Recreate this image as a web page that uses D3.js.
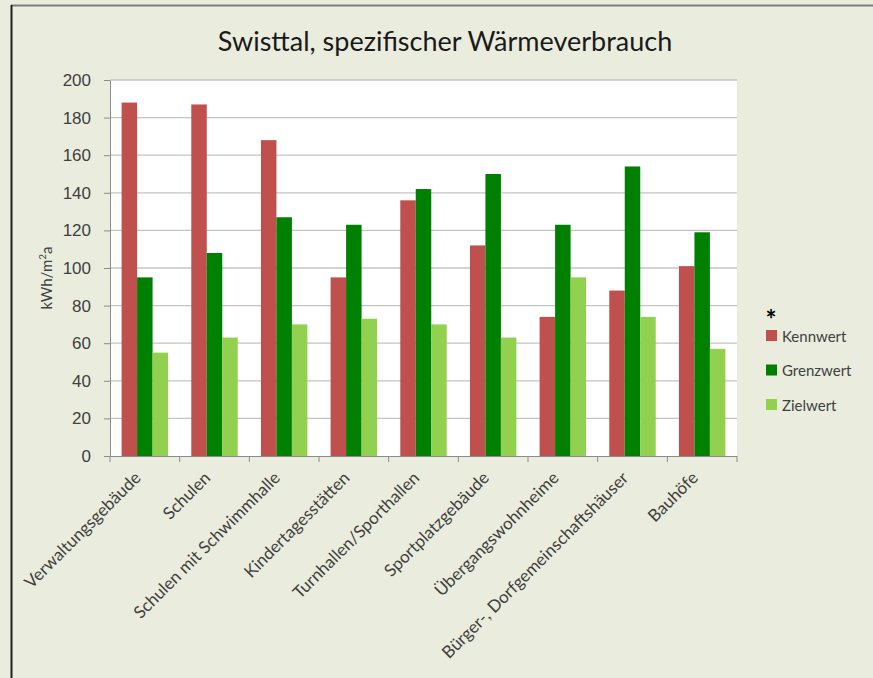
<!DOCTYPE html>
<meta charset="utf-8">
<style>
  body { margin: 0; background: #fff; }
  svg { display: block; font-family: Lato, "Open Sans", sans-serif; }
  .grid line { stroke: #c4c4c4; stroke-width: 1.3px; }
  .axis path, .axis line { stroke: #8c8c8c; }
  .axis text { fill: #404040; }
</style>
<body>
<svg width="873" height="678"></svg>
<script src="https://d3js.org/d3.v7.min.js"></script>
<script>
// data ------------------------------------------------------------------------
var categories = ["Verwaltungsgebäude", "Schulen", "Schulen mit Schwimmhalle", "Kindertagesstätten",
  "Turnhallen/Sporthallen", "Sportplatzgebäude", "Übergangswohnheime",
  "Bürger-, Dorfgemeinschaftshäuser", "Bauhöfe"];
var seriesNames = ["Kennwert", "Grenzwert", "Zielwert"];
var kennwert  = [188, 187, 168, 95, 136, 112, 74, 88, 101];
var grenzwert = [95, 108, 127, 123, 142, 150, 123, 154, 119];
var zielwert  = [55, 63, 70, 73, 70, 63, 95, 74, 57];
var yTicks = [0, 20, 40, 60, 80, 100, 120, 140, 160, 180, 200];
var colors = ["#c0504d", "#008000", "#92d050"];
//------------------------------------------------------------------------------

const svg = d3.select('svg'),
      width = +svg.attr('width'),
      height = +svg.attr('height');

// background + frame
svg.append('rect').attr('width', width).attr('height', height).attr('fill', '#eaeddd');
svg.append('line').attr('x1', 11).attr('x2', width).attr('y1', 5.5).attr('y2', 5.5)
  .attr('stroke', '#7d7d7d').attr('stroke-width', 2);
svg.append('line').attr('x1', 11.5).attr('x2', 11.5).attr('y1', 5).attr('y2', height)
  .attr('stroke', '#222').attr('stroke-width', 2);

// plot area
const plot = {left: 110, right: 737, top: 80, bottom: 456};

const x = d3.scaleBand().domain(categories).range([plot.left, plot.right]).paddingInner(0).paddingOuter(0);
// gap width 150% like in Excel: bars take 3/4.5 of the band
const xs = d3.scaleBand().domain(seriesNames).range([0, x.bandwidth()]).paddingInner(0).paddingOuter(0.75);
const y = d3.scaleLinear().domain([0, 200]).range([plot.bottom, plot.top]);

svg.append('rect')
  .attr('x', plot.left).attr('y', plot.top)
  .attr('width', plot.right - plot.left).attr('height', plot.bottom - plot.top)
  .attr('fill', '#fff');

// gridlines
svg.append('g').attr('class', 'grid')
  .selectAll('line').data(yTicks.filter(d => d > 0)).enter().append('line')
  .attr('x1', plot.left).attr('x2', plot.right)
  .attr('y1', d => y(d)).attr('y2', d => y(d));

// bars
const series = [kennwert, grenzwert, zielwert];
const groups = svg.append('g').selectAll('g').data(categories).enter().append('g')
  .attr('transform', d => `translate(${x(d)},0)`);
groups.selectAll('rect')
  .data((c, i) => seriesNames.map((s, j) => ({s: s, v: series[j][i], j: j})))
  .enter().append('rect')
  .attr('x', d => xs(d.s))
  .attr('width', xs.bandwidth())
  .attr('y', d => y(d.v))
  .attr('height', d => y(0) - y(d.v))
  .attr('fill', d => colors[d.j]);

// y axis
const yAxis = svg.append('g').attr('class', 'axis')
  .attr('transform', `translate(${plot.left},0)`)
  .call(d3.axisLeft(y).tickValues(yTicks).tickSize(6).tickSizeOuter(0).tickPadding(13));
yAxis.selectAll('text').style('font-size', '17px');

// x axis (ticks on category boundaries)
const xAxis = svg.append('g').attr('class', 'axis');
xAxis.append('line').attr('x1', plot.left).attr('x2', plot.right)
  .attr('y1', plot.bottom + 0.5).attr('y2', plot.bottom + 0.5);
xAxis.selectAll('.tk').data(categories.concat(['__end'])).enter().append('line')
  .attr('x1', (d, i) => plot.left + i * x.bandwidth())
  .attr('x2', (d, i) => plot.left + i * x.bandwidth())
  .attr('y1', plot.bottom).attr('y2', plot.bottom + 6);
xAxis.selectAll('text').data(categories).enter().append('text')
  .attr('transform', d => `translate(${x(d) + x.bandwidth() / 2 - 3},${plot.bottom + 23}) rotate(-45)`)
  .attr('text-anchor', 'end')
  .style('font-size', '17px')
  .text(d => d);

// y axis title
svg.append('text')
  .attr('transform', `translate(52,${(plot.top + plot.bottom) / 2 + 10}) rotate(-90)`)
  .attr('text-anchor', 'middle')
  .style('font-size', '15px').attr('fill', '#404040')
  .html('kWh/m<tspan baseline-shift="super" font-size="10px">2</tspan>a');

// title
svg.append('text')
  .attr('x', 445).attr('y', 51)
  .attr('text-anchor', 'middle')
  .style('font-size', '27px').attr('fill', '#1a1a1a')
  .text('Swisttal, spezifischer Wärmeverbrauch');

// legend
svg.append('text').attr('x', 771).attr('y', 329)
  .attr('text-anchor', 'middle').style('font-size', '26px').style('font-weight', 'bold')
  .attr('fill', '#000').text('*');
const legend = svg.append('g').selectAll('g').data(seriesNames).enter().append('g')
  .attr('transform', (d, i) => `translate(766,${336 + i * 34.5})`);
legend.append('rect').attr('x', 0).attr('y', -6).attr('width', 11).attr('height', 11)
  .attr('fill', (d, i) => colors[i]);
legend.append('text').attr('x', 16).attr('y', 5.5)
  .style('font-size', '15px').attr('fill', '#404040').text(d => d);
</script>
</body>
